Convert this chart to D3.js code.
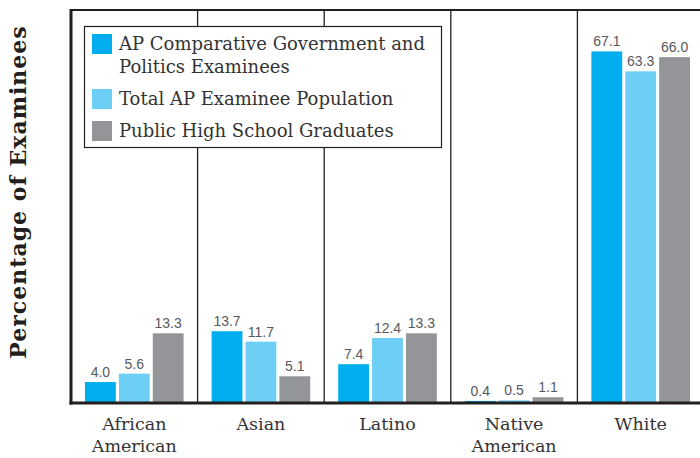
<!DOCTYPE html>
<meta charset="utf-8">
<style>
body { margin: 0; background: #fff; }
.val { font-family: "Liberation Sans", Arial, sans-serif; font-size: 14px; fill: #58595b; }
.cat { font-family: "DejaVu Serif", serif; font-size: 17.5px; fill: #333; }
.leg { font-family: "DejaVu Serif", serif; font-size: 18px; fill: #333; }
</style>
<svg width="700" height="458"></svg>
<script src="https://d3js.org/d3.v7.min.js"></script>
<script>

var categories = [["African", "American"], ["Asian"], ["Latino"], ["Native", "American"], ["White"]];
var seriesNames = [["AP Comparative Government and", "Politics Examinees"],
                   ["Total AP Examinee Population"],
                   ["Public High School Graduates"]];
var colors = ["#00aeef", "#6dcff6", "#939598"];
var apComp = [4.0, 13.7, 7.4, 0.4, 67.1];
var totalAP = [5.6, 11.7, 12.4, 0.5, 63.3];
var hsGrads = [13.3, 5.1, 13.3, 1.1, 66.0];
var series = [apComp, totalAP, hsGrads];

var svg = d3.select("svg"),
    plotLeft = 71, plotRight = 704, plotTop = 10, plotBottom = 403;

var x = d3.scaleBand().domain(d3.range(categories.length)).range([plotLeft, plotRight]);
var xi = d3.scaleBand().domain(d3.range(series.length)).range([14, x.bandwidth() - 14]).paddingInner(0.09);
var y = d3.scaleLinear().domain([0, 75]).range([plotBottom, plotTop]);

// dividers
svg.append("g").selectAll("line")
  .data(d3.range(1, categories.length))
  .enter().append("line")
    .attr("x1", d => x(d)).attr("x2", d => x(d))
    .attr("y1", plotTop).attr("y2", plotBottom)
    .attr("stroke", "#231f20").attr("stroke-width", 1.3);

// bars
var g = svg.append("g").selectAll("g")
  .data(series)
  .enter().append("g")
    .attr("fill", (s, i) => colors[i]);

g.each(function(s, si) {
  var sel = d3.select(this);
  sel.selectAll("rect").data(s).enter().append("rect")
    .attr("x", (v, i) => x(i) + xi(si))
    .attr("width", xi.bandwidth())
    .attr("y", v => y(v))
    .attr("height", v => y(0) - y(v));
  sel.selectAll("text").data(s).enter().append("text")
    .attr("class", "val")
    .attr("x", (v, i) => x(i) + xi(si) + xi.bandwidth() / 2)
    .attr("y", v => y(v) - 5)
    .attr("text-anchor", "middle")
    .text(v => v.toFixed(1));
});

// frame
svg.append("line").attr("x1", plotLeft).attr("x2", 700).attr("y1", plotTop).attr("y2", plotTop)
  .attr("stroke", "#231f20").attr("stroke-width", 2);
svg.append("line").attr("x1", plotLeft).attr("x2", plotLeft).attr("y1", plotTop - 1).attr("y2", plotBottom + 1.5)
  .attr("stroke", "#231f20").attr("stroke-width", 3);
svg.append("line").attr("x1", plotLeft - 1.5).attr("x2", 700).attr("y1", plotBottom).attr("y2", plotBottom)
  .attr("stroke", "#231f20").attr("stroke-width", 3);

// category labels
svg.append("g").selectAll("text")
  .data(categories)
  .enter().append("text")
    .attr("class", "cat")
    .attr("text-anchor", "middle")
    .attr("x", (c, i) => x(i) + x.bandwidth() / 2)
    .attr("y", 430)
    .each(function(c) {
      d3.select(this).selectAll("tspan").data(c).enter().append("tspan")
        .attr("x", d3.select(this).attr("x"))
        .attr("dy", (t, j) => j ? 22 : 0)
        .text(t => t);
    });

// y title
svg.append("text")
  .attr("transform", "translate(26,192) rotate(-90)")
  .attr("text-anchor", "middle")
  .style("font-family", "DejaVu Serif, serif")
  .style("font-weight", "bold")
  .style("font-size", "22px")
  .style("letter-spacing", "1px")
  .attr("fill", "#231f20")
  .text("Percentage of Examinees");

// legend
var leg = svg.append("g");
leg.append("rect").attr("x", 84.5).attr("y", 26.5).attr("width", 357).attr("height", 121)
  .attr("fill", "#fff").attr("stroke", "#231f20").attr("stroke-width", 1.2);
var legY = [34, 89, 121];
seriesNames.forEach(function(n, i) {
  leg.append("rect").attr("x", 92).attr("y", legY[i]).attr("width", 20).attr("height", 20)
    .attr("fill", colors[i]);
  var t = leg.append("text").attr("class", "leg").attr("x", 119).attr("y", legY[i] + 16);
  t.selectAll("tspan").data(n).enter().append("tspan")
    .attr("x", 119).attr("dy", (s, j) => j ? 23 : 0).text(s => s);
});

</script>
